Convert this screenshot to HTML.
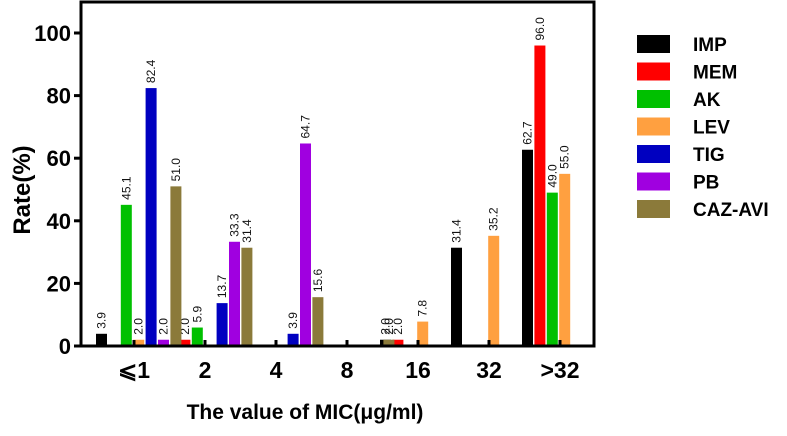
<!DOCTYPE html>
<html><head><meta charset="utf-8"><style>
body{margin:0;background:#fff;}
svg text{font-family:"Liberation Sans",Arial,sans-serif;}
</style></head><body>
<svg id="chart" width="787" height="431"></svg>
<script>
const categories = ["⩽1","2","4","8","16","32",">32"];
const seriesNames = ["IMP","MEM","AK","LEV","TIG","PB","CAZ-AVI"];
const seriesColors = ["#000000","#ff0000","#00c000","#ffa040","#0000c0","#a000e0","#8b7a3a"];
const IMP = [3.9,0,0,0,2.0,31.4,62.7];
const MEM = [0,2.0,0,0,2.0,0,96.0];
const AK  = [45.1,5.9,0,0,0,0,49.0];
const LEV = [2.0,0,0,0,7.8,35.2,55.0];
const TIG = [82.4,13.7,3.9,0,0,0,0];
const PB  = [2.0,33.3,64.7,0,0,0,0];
const CAZ = [51.0,31.4,15.6,2.0,0,0,0];
const yTicks = [0,20,40,60,80,100];
const series = [IMP,MEM,AK,LEV,TIG,PB,CAZ];

const NS="http://www.w3.org/2000/svg";
const svg=document.getElementById('chart');
function mk(tag,attrs,parent){const e=document.createElementNS(NS,tag);for(const k in attrs)e.setAttribute(k,attrs[k]);(parent||svg).appendChild(e);return e;}
const x0=81,x1=594,yTop=2,yBase=346;
const y=v=>yBase-v*3.13;
const tickX=i=>134+i*71;
const slot=12.4;
const barX=(i,s)=>tickX(i)-38+s*slot;

series.forEach((vals,s)=>{
  vals.forEach((v,i)=>{
    if(v<=0)return;
    const r=mk('rect',{x:barX(i,s),y:y(v),width:slot-1.4,height:yBase-y(v),fill:seriesColors[s]});
    
    
    const cx=barX(i,s)+(slot-1.4)/2+4;
    const t=mk('text',{x:cx,y:y(v)-5,transform:`rotate(-90 ${cx} ${y(v)-5})`,'font-size':12,fill:'#111'});
    t.textContent=v.toFixed(1);
    
    
  });
});
const fr=mk('rect',{x:x0,y:yTop,width:x1-x0,height:yBase-yTop,fill:'none',stroke:'#000','stroke-width':3});


yTicks.forEach(v=>{
  const l=mk('line',{x1:x0-7,x2:x0,y1:y(v),y2:y(v),stroke:'#000','stroke-width':3});
  
  
  const t=mk('text',{x:x0-10,y:y(v)+8,'text-anchor':'end','font-size':22,'font-weight':'bold'});
  t.textContent=v;
  
  
});
categories.forEach((c,i)=>{
  const cx=tickX(i);
  const l=mk('line',{x1:cx,x2:cx,y1:yBase-6,y2:yBase,stroke:'#000','stroke-width':3});
  
  
  const t=mk('text',{x:cx,y:378,'text-anchor':'middle','font-size':23,'font-weight':'bold'});
  t.textContent=c;
  
  
});
const yt=mk('text',{x:30,y:190,transform:'rotate(-90 30 190)','text-anchor':'middle','font-size':24,'font-weight':'bold'});
yt.textContent='Rate(%)';


const xt=mk('text',{x:305,y:419,'text-anchor':'middle','font-size':21,'font-weight':'bold'});
xt.textContent='The value of MIC(μg/ml)';


seriesNames.forEach((n,s)=>{
  const cy=44+s*27.5;
  const r=mk('rect',{x:637,y:cy-9,width:33,height:18,fill:seriesColors[s]});
  
  
  const t=mk('text',{x:693,y:cy+7,'font-size':19,'font-weight':'bold'});
  t.textContent=n;
  
  
});
</script>
</body></html>
